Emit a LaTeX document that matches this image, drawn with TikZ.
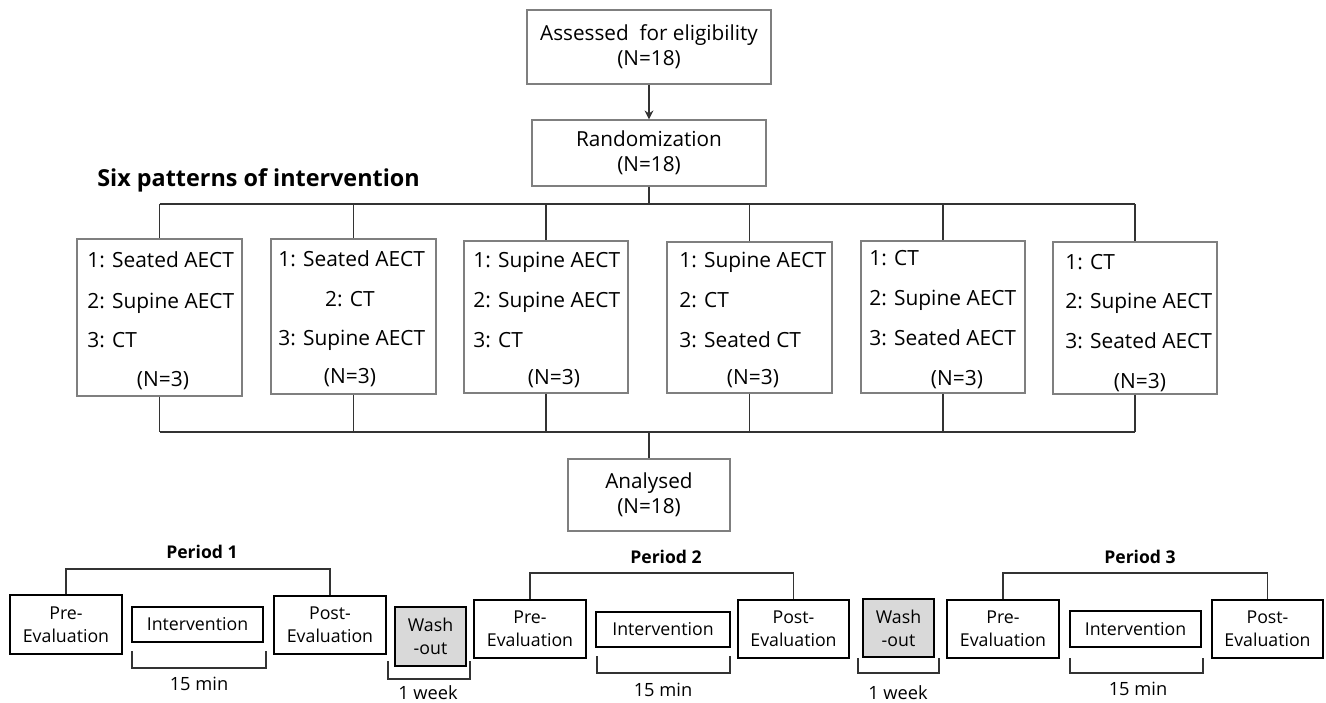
\documentclass[tikz,border=0pt]{standalone}
\usepackage{fontspec}
\setmainfont{Open Sans}
\usetikzlibrary{arrows.meta,calc}
\definecolor{bordergray}{HTML}{7F7F7F}
\definecolor{linedark}{HTML}{333333}
\definecolor{washfill}{HTML}{D9D9D9}
\tikzset{
  topbox/.style={draw=bordergray, line width=0.8pt, rectangle, inner sep=0pt, align=center,
    font=\fontsize{11.8}{14.2}\selectfont},
  botbox/.style={draw=black, line width=1.1pt, rectangle, inner sep=0pt, align=center,
    font=\fontsize{10.1}{13}\selectfont},
  washbox/.style={botbox, fill=washfill},
  conn/.style={draw=linedark, line width=1.1pt},
  ptext/.style={anchor=base west, inner sep=0pt, font=\fontsize{11.9}{14}\selectfont},
  ctext/.style={anchor=base, inner sep=0pt, font=\fontsize{11.9}{14}\selectfont},
  btext/.style={anchor=base, inner sep=0pt, font=\fontsize{10.4}{12}\selectfont},
  ptitle/.style={anchor=base, inner sep=0pt, font=\fontsize{10}{12}\selectfont\bfseries},
}
\newcommand\mkbox[7]{%
  \pgfmathsetmacro\bw{(#5-#3)*0.02}%
  \pgfmathsetmacro\bh{(#6-#4)*0.02}%
  \node[#2, minimum width=\bw cm, minimum height=\bh cm] (#1) at ({(#3+#5)/2},{(#4+#6)/2}) {#7};}
\begin{document}
\begin{tikzpicture}[x=0.02cm,y=-0.02cm]
\useasboundingbox (0,0) rectangle (1326,703);
% top boxes
\mkbox{ass}{topbox}{527}{10}{771}{84}{Assessed\ \ for eligibility\\(N=18)}
\mkbox{rand}{topbox}{532}{120}{766}{186}{Randomization\\(N=18)}
\mkbox{anal}{topbox}{568}{459}{730}{531}{Analysed\\(N=18)}
\draw[conn, -{Stealth[length=5pt,width=5pt]}] (ass.south) -- (rand.north);
\node[anchor=base west, inner sep=0pt, font=\fontsize{13.3}{15}\selectfont\bfseries] (title) at (97,186) {Six patterns of intervention};
% pattern boxes
\mkbox{p1}{topbox}{77}{239}{242}{396}{}
\mkbox{p2}{topbox}{271}{239}{436}{394}{}
\mkbox{p3}{topbox}{464}{241}{628}{393}{}
\mkbox{p4}{topbox}{667}{242}{832}{393}{}
\mkbox{p5}{topbox}{861}{241}{1025}{393}{}
\mkbox{p6}{topbox}{1053}{242}{1217}{394}{}
% pattern texts
\node[ptext] (p1a) at (87,267) {1: Seated AECT};
\node[ptext] (p1b) at (87,308) {2: Supine AECT};
\node[ptext] (p1c) at (87,347) {3: CT};
\node[ctext] (p1n) at (163,386) {(N=3)};
\node[ptext] (p2a) at (278,266) {1: Seated AECT};
\node[ctext] (p2b) at (350,306) {2: CT};
\node[ptext] (p2c) at (278,345) {3: Supine AECT};
\node[ctext] (p2n) at (350,383) {(N=3)};
\node[ptext] (p3a) at (473,267) {1: Supine AECT};
\node[ptext] (p3b) at (473,307) {2: Supine AECT};
\node[ptext] (p3c) at (473,347) {3: CT};
\node[ctext] (p3n) at (554,384) {(N=3)};
\node[ptext] (p4a) at (679,267) {1: Supine AECT};
\node[ptext] (p4b) at (679,307) {2: CT};
\node[ptext] (p4c) at (679,347) {3: Seated CT};
\node[ctext] (p4n) at (753,384) {(N=3)};
\node[ptext] (p5a) at (869,265) {1: CT};
\node[ptext] (p5b) at (869,305) {2: Supine AECT};
\node[ptext] (p5c) at (869,345) {3: Seated AECT};
\node[ctext] (p5n) at (957,385) {(N=3)};
\node[ptext] (p6a) at (1065,269) {1: CT};
\node[ptext] (p6b) at (1065,308) {2: Supine AECT};
\node[ptext] (p6c) at (1065,348) {3: Seated AECT};
\node[ctext] (p6n) at (1140,388) {(N=3)};
% tree connectors
\coordinate (topbar) at (649,204);
\coordinate (botbar) at (649,432);
\draw[conn] (rand.south) -- (topbar);
\draw[conn] (p1.north |- topbar) -- (p6.north |- topbar);
\foreach \p in {p1,p2,p3,p4,p5,p6}{
  \draw[conn] (\p.north |- topbar) -- (\p.north);
  \draw[conn] (\p.south) -- (\p.south |- botbar);
}
\draw[conn] (p1.south |- botbar) -- (p6.south |- botbar);
\draw[conn] (botbar) -- (anal.north -| botbar);
% ---- periods ----
\mkbox{pre1}{botbox}{10}{595}{122}{654}{Pre-\\Evaluation}
\mkbox{int1}{botbox}{132}{607}{263}{642}{Intervention}
\mkbox{post1}{botbox}{274}{596}{386}{654}{Post-\\Evaluation}
\mkbox{wash1}{washbox}{395}{607}{466}{666}{Wash\\-out}
\mkbox{pre2}{botbox}{474}{600}{586}{658}{Pre-\\Evaluation}
\mkbox{int2}{botbox}{596}{612}{730}{647}{Intervention}
\mkbox{post2}{botbox}{738}{600}{849}{658}{Post-\\Evaluation}
\mkbox{wash2}{washbox}{863}{599}{934}{657}{Wash\\-out}
\mkbox{pre3}{botbox}{947}{600}{1059}{658}{Pre-\\Evaluation}
\mkbox{int3}{botbox}{1070}{611}{1201}{647}{Intervention}
\mkbox{post3}{botbox}{1212}{600}{1323}{658}{Post-\\Evaluation}
% period titles and brackets
\node[ptitle] (per1) at (202,558) {Period 1};
\node[ptitle] (per2) at (666,563) {Period 2};
\node[ptitle] (per3) at (1140,563) {Period 3};
\draw[conn] (pre1.north) -- (66,569) -- (post1.north |- 0,569) -- (post1.north);
\draw[conn] (pre2.north) -- (pre2.north |- 0,573) -- (post2.north |- 0,573) -- (post2.north);
\draw[conn] (pre3.north) -- (pre3.north |- 0,573) -- (post3.north |- 0,573) -- (post3.north);
% duration brackets
\draw[conn] (132,651) -- (132,668) -- (266,668) -- (266,651);
\node[btext] (d1) at (199,690) {15 min};
\draw[conn] (388,661) -- (388,679) -- (470,679) -- (470,661);
\node[btext] (w1) at (428,699) {1 week};
\draw[conn] (597,656) -- (597,673) -- (730,673) -- (730,656);
\node[btext] (d2) at (663,696) {15 min};
\draw[conn] (858,658) -- (858,673) -- (939,673) -- (939,658);
\node[btext] (w2) at (898,699) {1 week};
\draw[conn] (1070,658) -- (1070,673) -- (1203,673) -- (1203,658);
\node[btext] (d3) at (1138,695) {15 min};
\end{tikzpicture}
\end{document}
